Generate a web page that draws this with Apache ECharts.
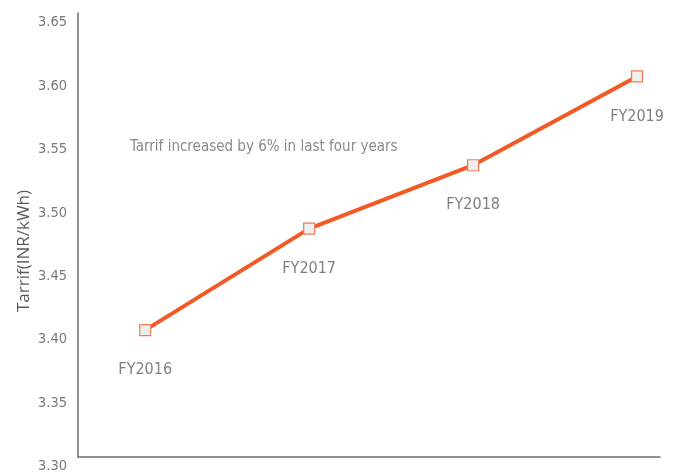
<!DOCTYPE html>
<html>
<head>
<meta charset="utf-8">
<script src="https://cdn.jsdelivr.net/npm/echarts@6/dist/echarts.min.js"></script>
<style>
  html, body { margin: 0; padding: 0; background: #ffffff; }
  #chart { width: 678px; height: 475px; }
</style>
</head>
<body>
<div id="chart"></div>
<script>
// Tariff by fiscal year
const years = ['FY2016', 'FY2017', 'FY2018', 'FY2019'];
const tariff = [3.40, 3.48, 3.53, 3.60];
const yTicks = [3.30, 3.35, 3.40, 3.45, 3.50, 3.55, 3.60, 3.65];
const yTitle = 'Tarrif(INR/kWh)';
const note = 'Tarrif increased by 6% in last four years';

const narrow = '"Liberation Sans Narrow", "DejaVu Sans Condensed", sans-serif';

const chart = echarts.init(document.getElementById('chart'), null, { renderer: 'canvas' });

chart.setOption({
  animation: false,
  backgroundColor: '#ffffff',
  grid: { left: 78, right: 18, top: 13, bottom: 18, containLabel: false },
  xAxis: {
    type: 'value',
    min: -0.41,
    max: 3.14,
    axisLine: { show: true, onZero: false, lineStyle: { color: '#6b6b6b', width: 1.5 } },
    axisTick: { show: false },
    axisLabel: { show: false },
    splitLine: { show: false }
  },
  yAxis: {
    type: 'value',
    min: yTicks[0],
    max: yTicks[yTicks.length - 1],
    interval: 0.05,
    axisLine: { show: true, onZero: false, lineStyle: { color: '#6b6b6b', width: 1.5 } },
    axisTick: { show: false },
    splitLine: { show: false },
    axisLabel: {
      margin: 11,
      verticalAlign: 'top',
      padding: [2, 0, 0, 0],
      color: '#7a7a7a',
      fontFamily: narrow,
      fontSize: 14.5,
      formatter: v => v.toFixed(2)
    }
  },
  graphic: [
    {
      type: 'text',
      x: 24,
      y: 251,
      rotation: Math.PI / 2,
      style: {
        text: yTitle,
        fill: '#595959',
        font: '17px "Open Sans", sans-serif',
        align: 'center',
        verticalAlign: 'middle'
      }
    },
    {
      type: 'text',
      x: 130,
      y: 147,
      style: {
        text: note,
        fill: '#8a8a8a',
        font: '15px ' + narrow,
        align: 'left',
        verticalAlign: 'middle'
      }
    }
  ],
  series: [{
    type: 'line',
    data: tariff.map((v, i) => [i, v]),
    symbol: 'rect',
    symbolSize: 11,
    lineStyle: { color: '#f15a24', width: 4 },
    itemStyle: { color: '#efefef', borderColor: '#f07a55', borderWidth: 1.2 },
    label: {
      show: true,
      position: 'bottom',
      distance: 26,
      color: '#7f7f7f',
      fontFamily: narrow,
      fontSize: 16,
      formatter: p => years[p.dataIndex]
    }
  }]
});
</script>
</body>
</html>
